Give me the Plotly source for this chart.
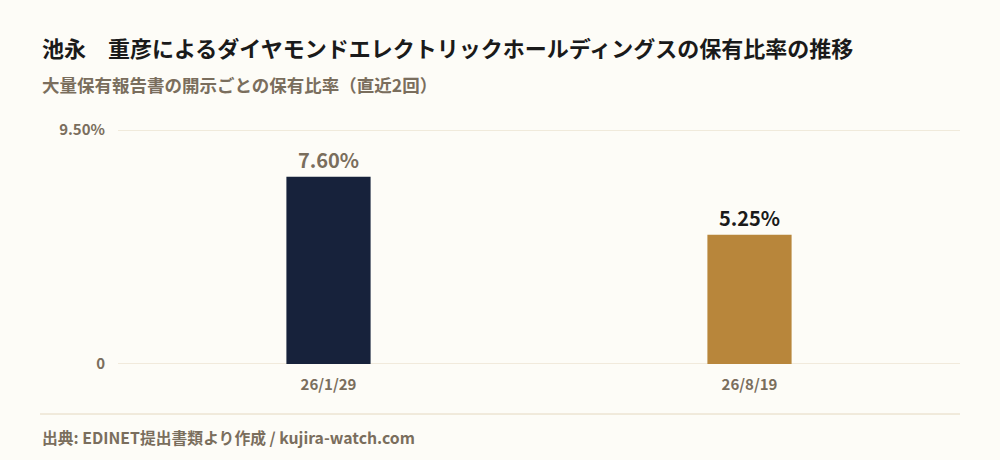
import plotly.graph_objects as go

categories = ["26/1/29", "26/8/19"]
ratios = [7.60, 5.25]
bar_labels = ["7.60%", "5.25%"]
bar_colors = ["#17223b", "#b8863b"]
label_colors = ["#7a6e5d", "#1a1a1a"]
y_tickvals = [0, 9.5]
y_ticktext = ["0", "9.50%"]

FONT = "Noto Sans CJK JP"
BG = "#fdfcf7"
GRID = "#e4d8c0"
GRAY = "#7a6e5d"

fig = go.Figure()
fig.add_trace(go.Bar(
    x=categories, y=ratios,
    marker=dict(color=bar_colors, line=dict(width=0)),
    width=0.2,
    text=bar_labels, textposition="outside",
    textfont=dict(family=FONT, size=20, color=label_colors, weight="bold"),
    cliponaxis=False, hoverinfo="skip",
))

fig.update_layout(
    width=1000, height=460,
    paper_bgcolor=BG, plot_bgcolor=BG,
    margin=dict(l=118, r=40, t=130, b=96),
    showlegend=False,
    font=dict(family=FONT, color=GRAY),
    xaxis=dict(
        range=[-0.5, 1.5], showgrid=False, zeroline=False, showline=False,
        ticks="", ticklabelstandoff=10,
        tickfont=dict(family=FONT, size=15, color=GRAY, weight="bold"),
    ),
    yaxis=dict(
        range=[0, 9.5], tickvals=y_tickvals, ticktext=y_ticktext,
        showgrid=False, zeroline=False,
        showline=False, ticks="", ticklabelstandoff=12,
        tickfont=dict(family=FONT, size=15, color=GRAY, weight="bold"),
    ),
    annotations=[
        dict(text="<b>池永　重彦によるダイヤモンドエレクトリックホールディングスの保有比率の推移</b>",
             xref="paper", yref="paper", x=-0.0926, y=1.0, xanchor="left", yanchor="middle",
             yshift=83, showarrow=False,
             font=dict(family=FONT, size=22, color="#1a1a1a")),
        dict(text="<b>大量保有報告書の開示ごとの保有比率（直近2回）</b>",
             xref="paper", yref="paper", x=-0.0926, y=1.0, xanchor="left", yanchor="middle",
             yshift=46, showarrow=False,
             font=dict(family=FONT, size=17.5, color=GRAY)),
        dict(text="<b>出典: EDINET提出書類より作成 / kujira-watch.com</b>",
             xref="paper", yref="paper", x=-0.0926, y=0, xanchor="left", yanchor="middle",
             yshift=-73, showarrow=False,
             font=dict(family=FONT, size=15.8, color=GRAY)),
    ],
)
# grid lines at the tick values
for v in y_tickvals:
    fig.add_shape(type="line", xref="paper", yref="y", x0=0, x1=1, y0=v, y1=v,
                  line=dict(color=GRID, width=1), layer="below")
# footer separator line
fig.add_shape(type="line", xref="paper", yref="paper", x0=-0.0926, x1=1.0,
              y0=-50/234, y1=-50/234, line=dict(color=GRID, width=1))

fig.write_html("out.html", config={"displayModeBar": False},
               post_script="document.body.style.margin='0';")
